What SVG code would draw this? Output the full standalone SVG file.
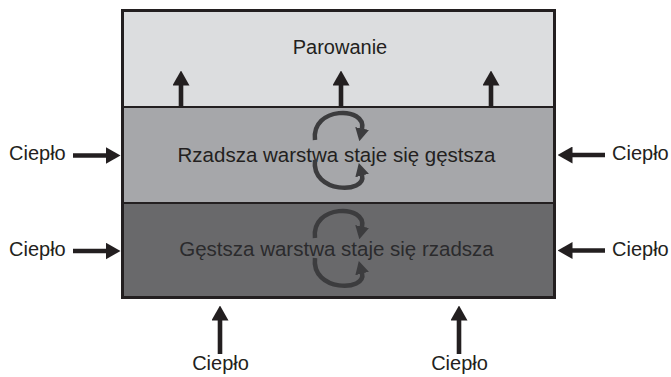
<svg xmlns="http://www.w3.org/2000/svg" width="671" height="377" viewBox="0 0 671 377">
<style>
text{font-family:"Liberation Sans",Arial,sans-serif;fill:#231f20}
.lbl{font-size:20px}
.mid{font-size:20.5px;text-anchor:middle}
.arr{stroke:#231f20;stroke-width:4.6;fill:none}
.loop{stroke:#3c3c3e;stroke-width:4.5;fill:none}
</style>
<defs>
<marker id="ah" markerUnits="userSpaceOnUse" markerWidth="15" markerHeight="17" viewBox="0 0 15 17" refX="0.5" refY="8.5" orient="auto">
<path d="M0,0 L15,8.5 L0,17 Z" fill="#231f20"/>
</marker>
<marker id="lh" markerUnits="userSpaceOnUse" markerWidth="13" markerHeight="14" viewBox="0 0 13 14" refX="0.5" refY="7" orient="auto">
<path d="M0,0 L13,7 L0,14 Z" fill="#3c3c3e"/>
</marker>
</defs>
<g id="evap-layer">
<rect x="122" y="10" width="433" height="97" fill="#dcdddf"/>
<text class="mid" x="340" y="54" style="font-size:20px">Parowanie</text>
</g>
<g id="upper-layer">
<rect x="122" y="107" width="433" height="96" fill="#a6a7aa"/>
<text class="mid" x="336.5" y="162">Rzadsza warstwa staje się gęstsza</text>
</g>
<g id="lower-layer">
<rect x="122" y="203" width="433" height="95" fill="#69696b"/>
<text class="mid" x="336.5" y="256" style="fill:#2b2b2d">Gęstsza warstwa staje się rzadsza</text>
</g>
<g id="frame">
<rect x="122.5" y="10.5" width="432" height="287" fill="none" stroke="#231f20" stroke-width="3"/>
<line x1="122" y1="107" x2="555" y2="107" stroke="#231f20" stroke-width="2"/>
<line x1="122" y1="203" x2="555" y2="203" stroke="#231f20" stroke-width="2"/>
</g>
<g id="heat-labels">
<text class="lbl" x="9" y="160">Ciepło</text>
<text class="lbl" x="9" y="256">Ciepło</text>
<text class="lbl" x="612" y="160">Ciepło</text>
<text class="lbl" x="612" y="256">Ciepło</text>
<text class="lbl" x="220.5" y="370" text-anchor="middle">Ciepło</text>
<text class="lbl" x="459.5" y="370" text-anchor="middle">Ciepło</text>
</g>
<g id="connectors">
<line class="arr" x1="181" y1="107" x2="181" y2="85" marker-end="url(#ah)"/>
<line class="arr" x1="341" y1="107" x2="341" y2="85" marker-end="url(#ah)"/>
<line class="arr" x1="491" y1="107" x2="491" y2="85" marker-end="url(#ah)"/>
<line class="arr" x1="73" y1="155.5" x2="106" y2="155.5" marker-end="url(#ah)"/>
<line class="arr" x1="73" y1="251" x2="106" y2="251" marker-end="url(#ah)"/>
<line class="arr" x1="605" y1="155" x2="572" y2="155" marker-end="url(#ah)"/>
<line class="arr" x1="605" y1="250.5" x2="572" y2="250.5" marker-end="url(#ah)"/>
<line class="arr" x1="220" y1="354" x2="220" y2="320" marker-end="url(#ah)"/>
<line class="arr" x1="459" y1="354" x2="459" y2="320" marker-end="url(#ah)"/>
<path class="loop" d="M315,140 C311,106 367,106 362,129" marker-end="url(#lh)"/>
<path class="loop" d="M315,160 C311,194 367,194 362,175" marker-end="url(#lh)"/>
<path class="loop" d="M315,238 C311,204 367,204 362,227" marker-end="url(#lh)"/>
<path class="loop" d="M315,258 C311,292 367,292 362,273" marker-end="url(#lh)"/>
</g>
</svg>
